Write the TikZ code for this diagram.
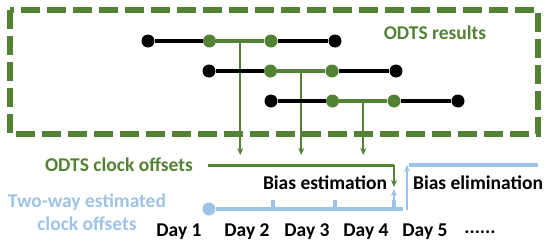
\documentclass[tikz,border=0pt]{standalone}
\usepackage{fontspec}
\setmainfont{Carlito}
\usetikzlibrary{arrows.meta, positioning, calc}
\definecolor{odtsgreen}{HTML}{548235}
\definecolor{twblue}{HTML}{9DC3E6}
\tikzset{
  dot/.style={circle, fill=black, inner sep=0pt, minimum size=13pt},
  gdot/.style={dot, fill=odtsgreen},
  bdot/.style={dot, fill=twblue},
  arc/.style={line width=3.5pt, black},
  garc/.style={line width=3.5pt, odtsgreen},
  gdrop/.style={line width=1.8pt, odtsgreen, -{Stealth[length=7pt, width=6pt]}},
  barc/.style={line width=3.5pt, twblue},
  bup/.style={line width=1.8pt, twblue, -{Stealth[length=7pt, width=6pt]}},
  lbl/.style={font=\bfseries\fontsize{19.5}{23}\selectfont, inner sep=0pt},
}

\begin{document}
\begin{tikzpicture}[x=1pt, y=-1pt]
    \useasboundingbox (0,0) rectangle (550,244);
    % dashed frame round the results
    \draw[odtsgreen, line width=5.5pt, dash pattern=on 19pt off 7pt] (10,10) rectangle (538,134);
    \node[lbl, odtsgreen] (res) at (435,33) {ODTS results};

    % three ODTS arcs
    \foreach \r/\y/\x in {1/41/148, 2/71/209, 3/101/271} {
      \node[dot] (a\r) at (\x,\y) {};
      \node[gdot] (b\r) at (\x+61.5,\y) {};
      \node[gdot] (c\r) at (\x+123,\y) {};
      \node[dot] (d\r) at (\x+187,\y) {};
      \draw[arc] (a\r) -- (b\r);
      \draw[arc] (c\r) -- (d\r);
      \draw[garc] (b\r) -- (c\r);
      \coordinate (m\r) at ($(b\r)!0.5!(c\r)$);
      \coordinate (t\r) at ($(m\r)!1!(m\r|-0,155)$);
      \draw[gdrop] (m\r) -- (t\r);
    }

    % ODTS clock offsets
    \node[lbl, odtsgreen, anchor=east] (odts) at (193,165) {ODTS clock offsets};
    \coordinate (g0) at (208,165);
    \coordinate (g1) at (394,165);
    \coordinate (g2) at (394,187);
    \draw[garc, line width=3pt] (g0) -- (g1);
    \draw[gdrop] (g1) -- (g2);

    % two-way estimated clock offsets
    \node[lbl, twblue, align=center] (tw) at (87,212) {Two-way estimated\\clock offsets};
    \node[bdot] (w0) at (209,209) {};
    \coordinate (w1) at (403,209);
    \draw[barc] (w0) -- (w1);
    \foreach \x in {273, 335, 394} {
      \draw[barc] (\x,210) -- (\x,200);
    }
    \coordinate (u0) at (394,203);
    \coordinate (u1) at (394,189);
    \draw[bup] (u0) -- (u1);
    \coordinate (e0) at (407,210);
    \coordinate (e1) at (407,165);
    \coordinate (e2) at (538,165);
    \draw[bup] (e0) -- (e1);
    \draw[barc] ([xshift=2pt]e1) -- (e2);

    \node[lbl] (est) at (325,183) {Bias estimation};
    \node[lbl] (elim) at (478,183) {Bias elimination};

    % days
    \foreach \n/\x in {1/179, 2/247, 3/307, 4/366, 5/425} {
      \node[lbl] (day\n) at (\x,232) {Day \n};
    }
    \node[lbl] (more) at (480,232) {......};
  \end{tikzpicture}
\end{document}
